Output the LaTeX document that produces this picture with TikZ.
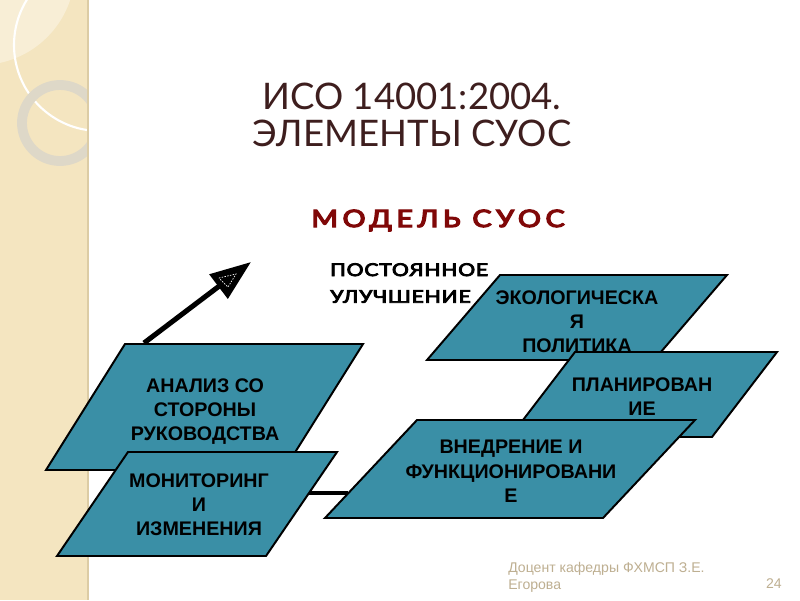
\documentclass[tikz,border=0pt]{standalone}
\usepackage{graphicx}
\usepackage{fontspec}
\setmainfont{Liberation Sans}
\newfontfamily\titlefont{Lato}
\newfontfamily\modelfont[LetterSpace=16, FakeBold=5]{Lato}
\newfontfamily\stepfont[LetterSpace=4, FakeBold=4.5]{Lato}
\usetikzlibrary{arrows.meta}

\definecolor{panelteal}{RGB}{58,143,166}
\definecolor{titlebrown}{RGB}{62,30,30}
\definecolor{modelred}{RGB}{128,8,8}
\definecolor{stripbeige}{RGB}{244,229,192}
\definecolor{striplight}{RGB}{248,238,214}
\definecolor{stripedge}{RGB}{220,204,165}
\definecolor{ringgrey}{RGB}{222,216,200}
\definecolor{footgrey}{RGB}{190,175,145}

\begin{document}
\begin{tikzpicture}[
  x=0.025cm, y=-0.025cm,
  panel/.style={draw=black, line width=1.4pt, fill=panelteal, line join=miter},
  paneltext/.style={align=center, anchor=north, inner sep=0pt, font=\fontsize{14}{17.4}\selectfont\bfseries},
  link/.style={line width=3pt},
  growth/.style={-{Triangle[length=29pt, width=21pt]}, line width=3.6pt}
]
\fill[white] (0,0) rectangle (800,600);
\useasboundingbox (0,0) rectangle (800,600);

% side strip
\fill[stripbeige] (0,0) rectangle (88,600);
\begin{scope}
  \clip (0,0) rectangle (88,600);
  \fill[striplight] (-20,-30) circle[radius=95];
  \draw[white, line width=1.5pt] (100,45) circle[radius=86];
  \draw[ringgrey, line width=7pt] (60,123) circle[radius=38];
\end{scope}
\draw[stripedge, line width=1pt] (88,0) -- (88,600);

% headings
\node[font=\titlefont\fontsize{26}{26.3}\selectfont, text=titlebrown, align=center, anchor=north, inner sep=0pt] (title) at (412,83) {ИСО 14001:2004.\\ЭЛЕМЕНТЫ СУОС};
\node[font=\modelfont\fontsize{17}{17}\selectfont, text=modelred, anchor=base] (model) at (438,227) {\scalebox{1.2}[1]{МОДЕЛЬ СУОС}};
\node[font=\stepfont\fontsize{12.5}{19}\selectfont, align=left, anchor=north west, inner sep=0pt] (improve) at (330,263) {\scalebox{1.2}[1]{ПОСТОЯННОЕ}\\\scalebox{1.2}[1]{УЛУЧШЕНИЕ}};

% panels
\draw[panel] (46,470) -- (284,470) -- (363,344) -- (125,344) -- cycle;
\node[paneltext] (review) at (205,378) {АНАЛИЗ СО\\СТОРОНЫ\\РУКОВОДСТВА};
\draw[panel] (57,556) -- (266,556) -- (337,452) -- (128,452) -- cycle;
\node[paneltext] (monitor) at (199,473) {МОНИТОРИНГ\\И\\ИЗМЕНЕНИЯ};
\draw[panel] (427,360) -- (654,360) -- (727,275) -- (500,275) -- cycle;
\node[paneltext] (policy) at (577,290) {ЭКОЛОГИЧЕСКА\\Я\\ПОЛИТИКА};
\draw[panel] (510,437) -- (712,437) -- (777,352) -- (575,352) -- cycle;
\node[paneltext] (plan) at (642,377) {ПЛАНИРОВАН\\ИЕ};
\coordinate (monitor-e) at (309,493);
\coordinate (impl-w) at (348,493);
\draw[link] (monitor-e) -- (impl-w);
\draw[panel] (325,518) -- (603,518) -- (695,420) -- (417,420) -- cycle;
\node[paneltext] (impl) at (511,440) {ВНЕДРЕНИЕ И\\ФУНКЦИОНИРОВАНИ\\Е};

% improvement arrow
\coordinate (grow-start) at (144,343);
\coordinate (grow-end) at (251,262);
\draw[growth] (grow-start) -- (grow-end);
\draw[white, line width=0.5pt, dash pattern=on 1pt off 1pt] (219,278) -- (236,274) -- (228,287) -- cycle;

% footer
\node[font=\fontsize{10}{12}\selectfont, text=footgrey, align=left, anchor=north west, inner sep=0pt] (author) at (508,562) {Доцент кафедры ФХМСП З.Е.\\Егорова};
\node[font=\fontsize{10}{12}\selectfont, text=footgrey, anchor=base east, inner sep=0pt] (page) at (782,588) {24};
\end{tikzpicture}
\end{document}
